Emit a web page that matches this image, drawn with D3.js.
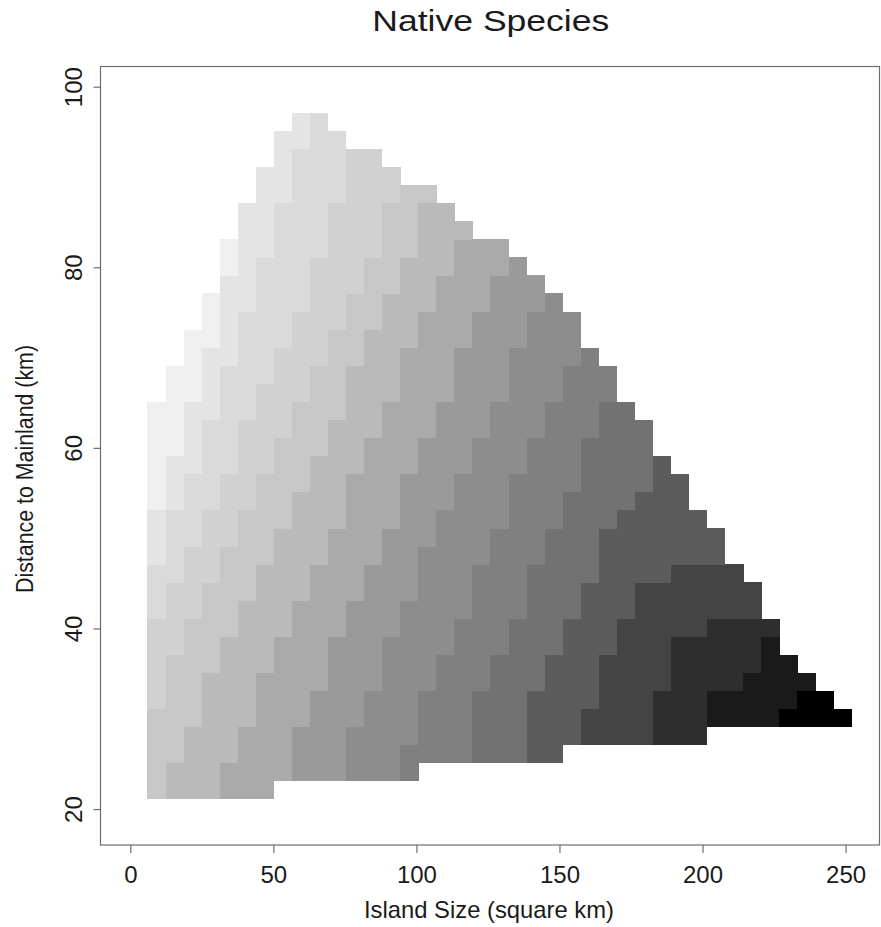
<!DOCTYPE html>
<html>
<head>
<meta charset="utf-8">
<script src="https://cdn.jsdelivr.net/npm/d3@7"></script>
<style>
  body { margin: 0; background: #ffffff; }
  svg { display: block; }
  text { font-family: "Liberation Sans", Arial, Helvetica, sans-serif; fill: #1a1a1a; }
</style>
</head>
<body>
<svg id="chart" width="881" height="927"></svg>
<script>
// ---- Data ----
// Island size (square km): left edges of the 39 grid columns plus the final right edge
const islandSizeEdges = [6.00, 12.31, 18.62, 24.93, 31.24, 37.55, 43.86, 50.17, 56.48, 62.79,
  69.10, 75.41, 81.72, 88.03, 94.34, 100.65, 106.96, 113.27, 119.58, 125.89,
  132.20, 138.51, 144.82, 151.13, 157.44, 163.75, 170.06, 176.37, 182.68, 188.99,
  195.30, 201.61, 207.92, 214.23, 220.54, 226.85, 233.16, 239.47, 245.78, 252.09];
// Distance to mainland (km): lower edges of the 38 grid rows plus the final top edge
const distanceEdges = [21.1, 23.1, 25.1, 27.1, 29.1, 31.1, 33.1, 35.1, 37.1, 39.1,
  41.1, 43.1, 45.1, 47.1, 49.1, 51.1, 53.1, 55.1, 57.1, 59.1,
  61.1, 63.1, 65.1, 67.1, 69.1, 71.1, 73.1, 75.1, 77.1, 79.1,
  81.1, 83.1, 85.1, 87.1, 89.1, 91.1, 93.1, 95.1, 97.1];
// first (lowest) row index present in each column
const columnStartRow = [0,0,0,0,0,0,0, 1,1,1,1,1,1,1,1, 2,2,2,2,2,2,2,2, 3,3,3,3,3,3,3,3, 4,4,4,4,4,4,4,4];
// native-species level of each cell, per column, from the lowest row upward (hex digit: 0 = fewest, f = most)
const speciesLevels = [
  "4444433333222111000000",
  "554444443333222211100000",
  "55554444443333222211110000",
  "5555555444443333222221111000",
  "6655555554444433332222221111100",
  "666655555554444433333222222111111",
  "66666665555554444433333222222211111",
  "666666665555554444433333222222221111",
  "7776666666555555444443333322222222211",
  "7777766666665555554444433333322222222",
  "777777776666665555554444433333332222",
  "88877777776666666555555444433333333",
  "88888777777766666665555554444333333",
  "8888888877777766666665555554444433",
  "998888888877777776666666555554444",
  "99998888888877777766666665555554",
  "9999998888888877777766666665555",
  "999999998888888877777776666665",
  "aaaa9999999888888877777776666",
  "aaaaaa99999998888888777777766",
  "aaaaaaaa99999999888888877777",
  "bbbbaaaaaaa9999999888888877",
  "bbbbbbaaaaaaa9999999888888",
  "bbbbbbbaaaaaaa9999999888",
  "ccbbbbbbbaaaaaaaa99999",
  "cccccbbbbbbbaaaaaaa99",
  "cccccccbbbbbbaaaaaa",
  "cccccccccbbbbbaaaa",
  "dddccccccbbbbbbb",
  "ddddddccccbbbbb",
  "ddddddccccbbb",
  "eeddddcccbb",
  "eeddddccc",
  "eeedddcc",
  "eeeeed",
  "feee",
  "ffe",
  "ff",
  "f"
];
// grey value of each level
const grayLevels = [239, 228, 218, 209, 199, 186, 170, 154, 141, 128, 114, 92, 68, 46, 26, 0];
const xTicks = [0, 50, 100, 150, 200, 250];
const yTicks = [20, 40, 60, 80, 100];
const titleText = "Native Species";
const xTitle = "Island Size (square km)";
const yTitle = "Distance to Mainland (km)";

// ---- Drawing ----
const svg = d3.select("#chart");
const x = d3.scaleLinear().domain([-10.42, 262.03]).range([100.5, 880]);
const y = d3.scaleLinear().domain([16.02, 102.29]).range([845, 66]);

// group consecutive equal cells of a column into one run
const runs = [];
speciesLevels.forEach((s, k) => {
  let start = 0;
  for (let i = 1; i <= s.length; i++) {
    if (i === s.length || s[i] !== s[start]) {
      runs.push({ k, r0: columnStartRow[k] + start, r1: columnStartRow[k] + i, level: parseInt(s[start], 16) });
      start = i;
    }
  }
});

svg.append("g")
  .attr("shape-rendering", "crispEdges")
  .selectAll("rect")
  .data(runs)
  .join("rect")
  .attr("x", d => x(islandSizeEdges[d.k]))
  .attr("width", d => x(islandSizeEdges[d.k + 1]) - x(islandSizeEdges[d.k]) + 0.3)
  .attr("y", d => y(distanceEdges[d.r1]))
  .attr("height", d => y(distanceEdges[d.r0]) - y(distanceEdges[d.r1]) + 0.3)
  .attr("fill", d => { const g = grayLevels[d.level]; return d3.rgb(g, g, g).toString(); });

// plot box
svg.append("rect")
  .attr("x", 100.5).attr("y", 66.5)
  .attr("width", 779).attr("height", 778.5)
  .attr("fill", "none").attr("stroke", "#6e6e6e").attr("stroke-width", 1.2);

// x axis
const gx = svg.append("g").attr("transform", "translate(0,845)")
  .call(d3.axisBottom(x).tickValues(xTicks).tickSize(8).tickFormat(d3.format("d")));
gx.select(".domain").remove();
gx.selectAll(".tick line").attr("stroke", "#6e6e6e").attr("stroke-width", 1.2);
gx.selectAll(".tick text")
  .attr("y", 38).attr("dy", 0)
  .attr("font-size", 24)
  .style("font-family", '"Liberation Sans", Arial, sans-serif')
  .attr("fill", "#1a1a1a");

// y axis
const gy = svg.append("g").attr("transform", "translate(100.5,0)")
  .call(d3.axisLeft(y).tickValues(yTicks).tickSize(7).tickFormat(d3.format("d")));
gy.select(".domain").remove();
gy.selectAll(".tick line").attr("stroke", "#6e6e6e").attr("stroke-width", 1.2);
gy.selectAll(".tick text")
  .attr("x", 0).attr("y", 0).attr("dy", 0)
  .attr("text-anchor", "middle")
  .attr("transform", "translate(-18.5,0) rotate(-90)")
  .attr("font-size", 24)
  .style("font-family", '"Liberation Sans", Arial, sans-serif')
  .attr("fill", "#1a1a1a");

// titles
svg.append("text")
  .attr("x", 490.8).attr("y", 31)
  .attr("text-anchor", "middle")
  .attr("font-size", 29)
  .attr("textLength", 237).attr("lengthAdjust", "spacingAndGlyphs")
  .text(titleText);

svg.append("text")
  .attr("x", 489).attr("y", 918)
  .attr("text-anchor", "middle")
  .attr("font-size", 24)
  .attr("textLength", 250).attr("lengthAdjust", "spacingAndGlyphs")
  .text(xTitle);

svg.append("text")
  .attr("transform", "translate(33,469) rotate(-90)")
  .attr("text-anchor", "middle")
  .attr("font-size", 23)
  .attr("textLength", 248).attr("lengthAdjust", "spacingAndGlyphs")
  .text(yTitle);
</script>
</body>
</html>
